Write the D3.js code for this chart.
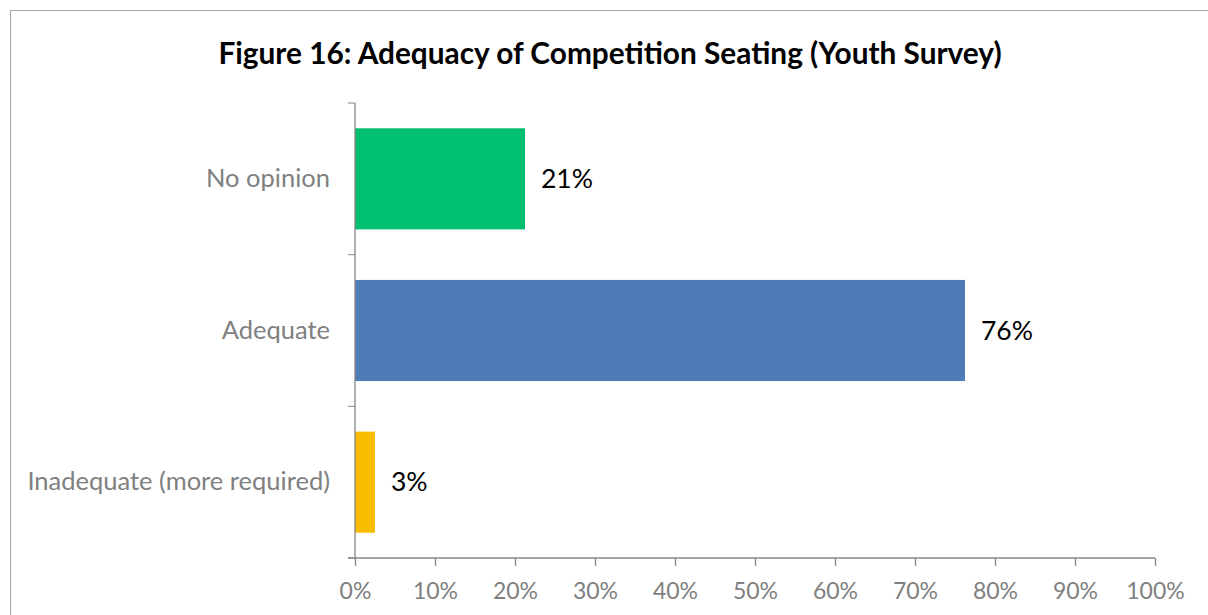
<!DOCTYPE html>
<html>
<head>
<meta charset="utf-8">
<script src="https://cdn.jsdelivr.net/npm/d3@7"></script>
<style>
  html, body { margin: 0; padding: 0; background: #fff; }
  svg { display: block; }
</style>
</head>
<body>
<svg id="chart" width="1208" height="615"></svg>
<script>
// Survey responses, top to bottom
const categories = ["No opinion", "Adequate", "Inadequate (more required)"];
const shares = [0.2125, 0.7625, 0.025];
const barColors = ["#00BF6F", "#4E7CB6", "#F8BC00"];
const xTickValues = [0, 0.1, 0.2, 0.3, 0.4, 0.5, 0.6, 0.7, 0.8, 0.9, 1.0];
const titleText = "Figure 16: Adequacy of Competition Seating (Youth Survey)";

const svg = d3.select("#chart");
const fontFamily = "Lato, 'Open Sans', sans-serif";
const axisColor = "#868686";

// outer frame of the chart area
svg.append("rect")
  .attr("x", 10.5).attr("y", 10.5)
  .attr("width", 1240).attr("height", 640)
  .attr("fill", "none").attr("stroke", "#A6A6A6").attr("stroke-width", 1);

const plot = { left: 355, right: 1155, top: 103, bottom: 558 };

const x = d3.scaleLinear().domain([0, 1]).range([plot.left, plot.right]);
const y = d3.scaleBand().domain(categories)
  .range([plot.top, plot.bottom])
  .paddingInner(1 / 3).paddingOuter(1 / 6);

// title
svg.append("text")
  .attr("x", 610).attr("y", 64)
  .attr("text-anchor", "middle")
  .attr("font-family", fontFamily)
  .attr("font-weight", "bold")
  .attr("font-size", 29.8)
  .attr("fill", "#000")
  .text(titleText);

// bars
svg.append("g").selectAll("rect")
  .data(categories)
  .join("rect")
  .attr("x", x(0))
  .attr("y", d => y(d))
  .attr("width", (d, i) => x(shares[i]) - x(0))
  .attr("height", y.bandwidth())
  .attr("fill", (d, i) => barColors[i]);

// value labels
const pct = d3.format(".0%");
svg.append("g").selectAll("text")
  .data(categories)
  .join("text")
  .attr("x", (d, i) => x(shares[i]) + 16)
  .attr("y", d => y(d) + y.bandwidth() / 2)
  .attr("dy", "0.35em")
  .attr("font-family", fontFamily)
  .attr("font-size", 26.5)
  .attr("fill", "#000")
  .text((d, i) => pct(shares[i]));

// x axis
const xAxis = svg.append("g")
  .attr("transform", `translate(0,${plot.bottom})`)
  .call(d3.axisBottom(x).tickValues(xTickValues).tickFormat(pct).tickSize(8).tickPadding(17));

// y axis: ticks sit at the band boundaries
const yAxis = svg.append("g")
  .attr("transform", `translate(${plot.left},0)`)
  .call(d3.axisLeft(y).tickSize(0).tickPadding(25));

const step = y.step();
const boundaries = d3.range(categories.length + 1).map(i => plot.top + i * step);
yAxis.selectAll("line.bound")
  .data(boundaries)
  .join("line")
  .attr("class", "bound")
  .attr("x1", -7).attr("x2", 0)
  .attr("y1", d => d).attr("y2", d => d)
  .attr("stroke", axisColor);

[xAxis, yAxis].forEach(g => {
  g.select(".domain").attr("stroke", axisColor).attr("stroke-width", 1.3);
  g.selectAll(".tick line").attr("stroke", axisColor).attr("stroke-width", 1.3);
  g.selectAll(".tick text")
    .attr("font-family", fontFamily)
    .attr("fill", "#808080");
});
xAxis.selectAll(".tick text").attr("font-size", 23);
yAxis.selectAll(".tick text").attr("font-size", 25.5);
yAxis.select(".domain").attr("d", `M0,${plot.top}V${plot.bottom}`);
xAxis.select(".domain").attr("d", `M${plot.left - 7},0H${plot.right}`);
</script>
</body>
</html>
